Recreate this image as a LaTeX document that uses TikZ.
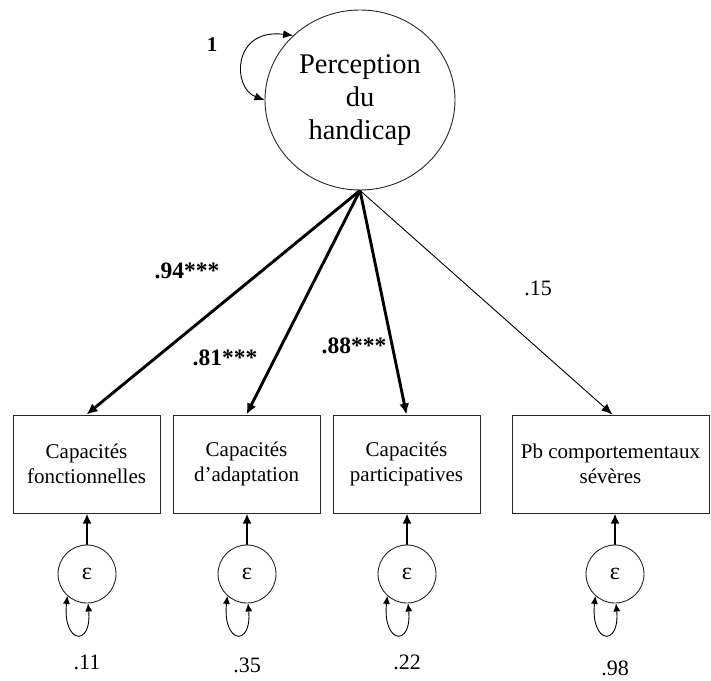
\documentclass[tikz,border=0pt]{standalone}
\usepackage{fontspec}
\setmainfont{Liberation Serif}
\usetikzlibrary{arrows.meta,shapes.geometric}

\tikzset{
  latent/.style={ellipse, draw=black!85, line width=0.9pt, inner sep=0pt,
    minimum width=190pt, minimum height=180pt, align=center,
    font=\fontsize{28.5}{33}\selectfont},
  indicator/.style={rectangle, draw=black!85, line width=1pt, inner sep=0pt,
    minimum height=98pt, align=center, font=\fontsize{21}{25}\selectfont},
  errnode/.style={circle, draw=black!85, line width=0.9pt, inner sep=0pt,
    minimum size=58pt, font=\fontsize{24}{26}\selectfont},
  loading/.style={line width=2.9pt, -{Latex[length=11pt,width=10pt]}},
  weakloading/.style={line width=0.9pt, -{Latex[length=11pt,width=9pt]}},
  errpath/.style={line width=2.9pt, -{Latex[length=10pt,width=9pt]}},
  varloop/.style={line width=0.9pt, {Latex[length=8pt,width=7pt]}-{Latex[length=8pt,width=7pt]}},
  coef/.style={font=\fontsize{23.5}{25}\selectfont\bfseries},
  plaincoef/.style={font=\fontsize{22}{24}\selectfont}
}

\begin{document}
\begin{tikzpicture}[x=1pt,y=-1pt]
\useasboundingbox (0,0) rectangle (711,680);

% latent factor
\node[latent] (P) at (360,100) {Perception\\du\\handicap};
\draw[line width=0.9pt, {Latex[length=10pt,width=8pt]}-{Latex[length=10pt,width=8pt]}]
  (P.136) .. controls (232,28) and (232,88) .. (P.180);
\node[coef, font=\fontsize{21}{23}\selectfont\bfseries] (one) at (212,45) {1};

% observed indicators
\node[indicator, minimum width=147pt] (b1) at (86.5,464) {Capacités\\fonctionnelles};
\node[indicator, minimum width=147pt] (b2) at (246.5,464) {Capacités\\d’adaptation};
\node[indicator, minimum width=147pt] (b3) at (406.5,464) {Capacités\\participatives};
\node[indicator, minimum width=197pt] (b4) at (610.5,464) {Pb comportementaux\\sévères};

% factor loadings
\draw[loading] (P.south) -- (b1.north);
\draw[loading] (P.south) -- (b2.north);
\draw[loading] (P.south) -- (b3.north);
\draw[weakloading] (P.south) -- ([xshift=2pt]b4.north);

\node[coef] (l1) at (187,271) {.94***};
\node[coef] (l2) at (225,358) {.81***};
\node[coef] (l3) at (354,346) {.88***};
\node[plaincoef] (l4) at (538,288) {.15};

% error terms with their variances
\foreach \i/\x/\v/\vy in {1/87/.11/662, 2/247/.35/665, 3/407/.22/662, 4/615/.98/668}{
  \node[errnode] (e\i) at (\x,574) {ε};
  \draw[errpath] (e\i.north) -- (b\i.south -| e\i.north);
  \draw[varloop] (e\i.228) .. controls +(-5,48) and +(4,44) .. (e\i.272);
  \node[plaincoef] (v\i) at (\x,\vy) {\v};
}
\end{tikzpicture}
\end{document}
